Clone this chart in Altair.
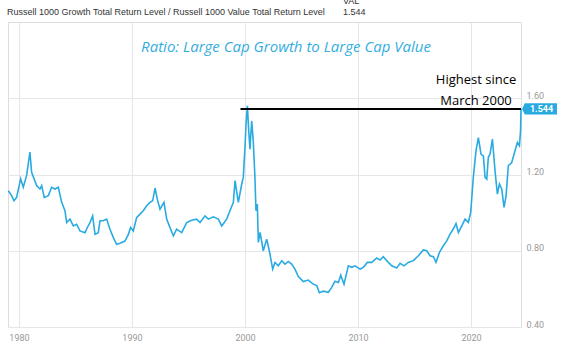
import altair as alt
import pandas as pd

years = [1979.06, 1979.35, 1979.56, 1979.79, 1980.15, 1980.38, 1980.68, 1980.97, 1981.12, 1981.56,
         1981.86, 1982.01, 1982.24, 1982.60, 1982.89, 1983.19, 1983.48, 1983.78, 1984.07, 1984.22,
         1984.51, 1984.81, 1985.10, 1985.40, 1985.84, 1986.05, 1986.28, 1986.52, 1986.73, 1987.02,
         1987.17, 1987.46, 1987.76, 1988.05, 1988.35, 1988.64, 1988.94, 1989.38, 1989.68, 1989.88,
         1990.12, 1990.41, 1990.71, 1991.00, 1991.30, 1991.59, 1991.83, 1992.04, 1992.24, 1992.48,
         1992.83, 1993.07, 1993.36, 1993.66, 1993.95, 1994.40, 1994.84, 1995.28, 1995.72, 1996.02,
         1996.46, 1996.76, 1997.20, 1997.64, 1997.94, 1998.38, 1998.67, 1998.97, 1999.12, 1999.41,
         1999.71, 1999.85, 2000.00, 2000.09, 2000.21, 2000.33, 2000.44, 2000.59, 2000.73, 2000.88,
         2000.97, 2001.09, 2001.18, 2001.33, 2001.62, 2001.92, 2002.15, 2002.45, 2002.65, 2002.95,
         2003.25, 2003.54, 2003.83, 2004.13, 2004.42, 2004.72, 2005.16, 2005.60, 2006.04, 2006.35,
         2006.58, 2006.93, 2007.37, 2007.67, 2007.96, 2008.26, 2008.47, 2008.76, 2009.14, 2009.44,
         2009.73, 2010.18, 2010.47, 2010.83, 2011.21, 2011.65, 2011.95, 2012.24, 2012.54, 2012.98,
         2013.42, 2013.72, 2014.07, 2014.45, 2014.90, 2015.34, 2015.78, 2016.08, 2016.37, 2016.67,
         2016.90, 2017.20, 2017.55, 2017.85, 2018.14, 2018.43, 2018.67, 2018.88, 2019.18, 2019.47,
         2019.76, 2019.97, 2020.20, 2020.44, 2020.65, 2020.88, 2021.09, 2021.24, 2021.39, 2021.53,
         2021.68, 2021.89, 2022.12, 2022.33, 2022.51, 2022.72, 2022.92, 2023.10, 2023.30, 2023.60,
         2023.89, 2024.10, 2024.28, 2024.38, 2024.42]
ratio = [1.115, 1.089, 1.062, 1.080, 1.177, 1.133, 1.195, 1.318, 1.212, 1.142,
         1.124, 1.142, 1.080, 1.089, 1.133, 1.124, 1.133, 1.054, 1.010, 0.948,
         0.966, 0.930, 0.939, 0.904, 0.895, 0.922, 0.948, 0.983, 0.886, 0.895,
         0.957, 0.957, 0.966, 0.913, 0.869, 0.834, 0.839, 0.851, 0.886, 0.922,
         0.904, 0.974, 0.992, 1.010, 1.036, 1.054, 1.062, 1.129, 1.071, 1.018,
         1.054, 0.966, 0.922, 0.878, 0.913, 0.895, 0.948, 0.960, 0.966, 0.948,
         0.983, 0.966, 0.978, 0.966, 0.930, 0.966, 1.010, 1.054, 1.168, 1.054,
         1.150, 1.186, 1.344, 1.464, 1.560, 1.429, 1.333, 1.481, 1.377, 1.184,
         1.010, 1.045, 0.844, 0.896, 0.800, 0.861, 0.800, 0.704, 0.739, 0.721,
         0.748, 0.730, 0.744, 0.730, 0.704, 0.665, 0.638, 0.646, 0.625, 0.617,
         0.580, 0.588, 0.582, 0.608, 0.640, 0.634, 0.672, 0.625, 0.721, 0.713,
         0.721, 0.704, 0.713, 0.739, 0.739, 0.762, 0.751, 0.769, 0.748, 0.721,
         0.709, 0.734, 0.721, 0.739, 0.748, 0.774, 0.804, 0.800, 0.774, 0.769,
         0.739, 0.791, 0.826, 0.852, 0.887, 0.914, 0.943, 0.896, 0.931, 0.966,
         0.949, 1.001, 1.185, 1.325, 1.394, 1.307, 1.298, 1.185, 1.176, 1.290,
         1.307, 1.386, 1.220, 1.097, 1.150, 1.123, 1.027, 1.088, 1.246, 1.263,
         1.325, 1.368, 1.351, 1.429, 1.544]

x_ticks = [1980, 1990, 2000, 2010, 2020]
y_ticks = [0.4, 0.8, 1.2, 1.6]
last_value = 1.544
rule_start = 1999.6
x_domain = [1979.03, 2024.42]
y_domain = [0.4, 2.0]

header_text = "Russell 1000 Growth Total Return Level / Russell 1000 Value Total Return Level"
title_text = "Ratio: Large Cap Growth to Large Cap Value"
note_lines = ["Highest since", "March 2000"]

BLUE = "#29abe2"
W, H = 513, 305

df = pd.DataFrame({"year": years, "ratio": ratio})
xs = alt.Scale(domain=x_domain, nice=False, zero=False)
ys = alt.Scale(domain=y_domain, nice=False, zero=False)

line = alt.Chart(df).mark_line(color=BLUE, strokeWidth=1.6).encode(
    x=alt.X("year:Q", scale=xs, title=None,
            axis=alt.Axis(values=x_ticks, format="d", labelPadding=6, ticks=False, domain=False,
                          labelColor="#999999", labelFontSize=9, labelFont="Roboto",
                          gridColor="#e6e6e6")),
    y=alt.Y("ratio:Q", scale=ys, title=None,
            axis=alt.Axis(orient="right", values=y_ticks, format=".2f", labelAlign="left",
                          labelBaseline="alphabetic", labelPadding=5, ticks=False, domain=False,
                          labelColor="#999999", labelFontSize=9, labelFont="Roboto",
                          gridColor="#e6e6e6")),
)

rule_df = pd.DataFrame({"x": [rule_start], "x2": [x_domain[1]], "y": [last_value]})
rule = alt.Chart(rule_df).mark_rule(color="black", strokeWidth=2).encode(
    x=alt.X("x:Q", scale=xs), x2="x2:Q", y=alt.Y("y:Q", scale=ys)
)

tag_df = pd.DataFrame({"y": [last_value], "label": [f"{last_value:.3f}"]})
tag = alt.Chart(tag_df).mark_point(
    shape="M-1,0 L-0.84,-0.32 L1,-0.32 L1,0.32 L-0.84,0.32 Z",
    size=1225, filled=True, color=BLUE, opacity=1, strokeWidth=0
).encode(x=alt.value(531.5), y=alt.Y("y:Q", scale=ys))
tag_text = alt.Chart(tag_df).mark_text(
    color="white", fontSize=9, fontWeight="bold", font="Roboto", align="center", baseline="middle"
).encode(x=alt.value(533.5), y=alt.Y("y:Q", scale=ys), text="label:N")

title = alt.Chart(pd.DataFrame({"t": [title_text]})).mark_text(
    color="#35ade0", fontSize=15, font="Open Sans", fontStyle="italic", align="center", baseline="middle"
).encode(x=alt.value(278), y=alt.value(25), text="t:N")

note = alt.Chart(pd.DataFrame({"t": note_lines, "yy": [58, 79]})).mark_text(
    color="black", fontSize=13, font="Open Sans", align="center", baseline="middle"
).encode(x=alt.value(468), y=alt.Y("yy:Q", scale=None), text="t:N")

header = alt.Chart(pd.DataFrame({"t": [header_text]})).mark_text(
    color="#333333", fontSize=9, font="Liberation Sans", align="left", baseline="middle"
).encode(x=alt.value(-1), y=alt.value(-10), text="t:N")

hdr_val = alt.Chart(pd.DataFrame({"t": ["VAL", f"{last_value:.3f}"], "yy": [-21, -10]})).mark_text(
    color="#333333", fontSize=9, font="Liberation Sans", align="left", baseline="middle"
).encode(x=alt.value(335), y=alt.Y("yy:Q", scale=None), text="t:N")

chart = alt.layer(line, rule, tag, tag_text, title, note, header, hdr_val).properties(
    width=W, height=H,
    autosize=alt.AutoSizeParams(type="none"),
    padding={"left": 8, "top": 22, "right": 40, "bottom": 26},
).configure_view(stroke="#dddddd").configure(background="white")

chart.save("out.html", embed_options={"renderer": "svg", "actions": False})
